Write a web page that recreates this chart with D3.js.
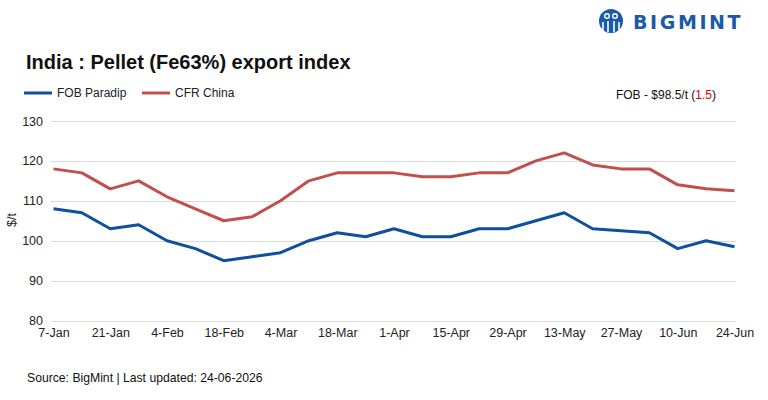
<!DOCTYPE html>
<meta charset="utf-8">
<style>
body { margin: 0; background: #fff; font-family: "Liberation Sans", Arial, sans-serif; }
.grid line { stroke: #d9d9d9; stroke-width: 1px; shape-rendering: crispEdges; }
.axis text { font-size: 12.5px; fill: #222; }
.axis path, .axis line { display: none; }
.line { fill: none; stroke-width: 3px; stroke-linejoin: round; }
</style>
<body>
<script src="https://cdn.jsdelivr.net/npm/d3@7"></script>
<script>

var weeks = ["7-Jan","14-Jan","21-Jan","28-Jan","4-Feb","11-Feb","18-Feb","25-Feb",
  "4-Mar","11-Mar","18-Mar","25-Mar","1-Apr","8-Apr","15-Apr","22-Apr","29-Apr",
  "6-May","13-May","20-May","27-May","3-Jun","10-Jun","17-Jun","24-Jun"];

var fobParadip = [108,107,103,104,100,98,95,96,97,100,102,101,103,101,101,103,103,
  105,107,103,102.5,102,98,100,98.5];

var cfrChina = [118,117,113,115,111,108,105,106,110,115,117,117,117,116,116,117,117,
  120,122,119,118,118,114,113,112.5];

var yTicks = [80, 90, 100, 110, 120, 130];
var xTickLabels = weeks.filter(function(d, i) { return i % 2 == 0; });

var series = [
  {name: "FOB Paradip", values: fobParadip, color: "#0e4f9e"},
  {name: "CFR China", values: cfrChina, color: "#c0504d"}
];

var width = 768, height = 400;

var svg = d3.select("body").append("svg")
    .attr("width", width)
    .attr("height", height);

var x = d3.scalePoint()
    .domain(weeks)
    .range([53.5, 734.5]);

var y = d3.scaleLinear()
    .domain([80, 130])
    .range([320.5, 121]);

// grid
svg.append("g")
    .attr("class", "grid")
  .selectAll("line")
    .data(yTicks)
  .enter().append("line")
    .attr("x1", 51)
    .attr("x2", 736)
    .attr("y1", function(d) { return Math.round(y(d)) + 0.5; })
    .attr("y2", function(d) { return Math.round(y(d)) + 0.5; });

var yAxis = d3.axisLeft(y)
    .tickValues(yTicks)
    .tickSize(0)
    .tickPadding(0);

svg.append("g")
    .attr("class", "y axis")
    .attr("transform", "translate(43,0)")
    .call(yAxis);

var xAxis = d3.axisBottom(x)
    .tickValues(xTickLabels)
    .tickSize(0)
    .tickPadding(8);

svg.append("g")
    .attr("class", "x axis")
    .attr("transform", "translate(0,320)")
    .call(xAxis);

svg.append("text")
    .attr("transform", "translate(16,220) rotate(-90)")
    .attr("text-anchor", "middle")
    .style("font-size", "12.5px")
    .style("fill", "#222")
    .text("$/t");

var line = d3.line()
    .x(function(d, i) { return x(weeks[i]); })
    .y(function(d) { return y(d); });

svg.selectAll(".line")
    .data(series)
  .enter().append("path")
    .attr("class", "line")
    .attr("stroke", function(d) { return d.color; })
    .attr("d", function(d) { return line(d.values); });

// title
svg.append("text")
    .attr("x", 26)
    .attr("y", 69)
    .style("font-size", "20px")
    .style("font-weight", "bold")
    .style("fill", "#111")
    .text("India : Pellet (Fe63%) export index");

// legend
var legendX = [24, 142];
var legend = svg.selectAll(".legend")
    .data(series)
  .enter().append("g")
    .attr("class", "legend")
    .attr("transform", function(d, i) { return "translate(" + legendX[i] + ",93)"; });

legend.append("line")
    .attr("x1", 0).attr("x2", 28)
    .attr("stroke", function(d) { return d.color; })
    .attr("stroke-width", 3);

legend.append("text")
    .attr("x", 33)
    .attr("dy", "0.35em")
    .style("font-size", "12px")
    .style("fill", "#222")
    .text(function(d) { return d.name; });

// latest value note
var note = svg.append("text")
    .attr("x", 716)
    .attr("y", 99)
    .attr("text-anchor", "end")
    .style("font-size", "12px")
    .style("fill", "#111");
note.append("tspan").text("FOB - $98.5/t (");
note.append("tspan").style("fill", "#e00000").text("1.5");
note.append("tspan").text(")");

// source
svg.append("text")
    .attr("x", 27)
    .attr("y", 382)
    .style("font-size", "12.2px")
    .style("fill", "#111")
    .text("Source: BigMint | Last updated: 24-06-2026");

// logo
var logo = svg.append("g").attr("transform", "translate(611,21)");
logo.append("circle").attr("r", 12).attr("fill", "#1a5aa8");
logo.append("circle").attr("cx", -4).attr("cy", -5).attr("r", 3).attr("fill", "#fff");
logo.append("circle").attr("cx", 4).attr("cy", -5).attr("r", 3).attr("fill", "#fff");
logo.append("path")
    .attr("d", "M-8,1 L-8,9 M-3,0 L-3,11 M3,0 L3,11 M8,1 L8,9")
    .attr("stroke", "#fff")
    .attr("stroke-width", 1.6);
logo.append("circle").attr("cx", -4).attr("cy", -5).attr("r", 1.6).attr("fill", "#1a5aa8");
logo.append("circle").attr("cx", 4).attr("cy", -5).attr("r", 1.6).attr("fill", "#1a5aa8");

svg.append("text")
    .attr("x", 633)
    .attr("y", 29)
    .style("font-family", "'DejaVu Sans', sans-serif")
    .style("font-size", "19px")
    .style("font-weight", "bold")
    .style("letter-spacing", "2.6px")
    .style("fill", "#1a5aa8")
    .text("BIGMINT");

</script>
